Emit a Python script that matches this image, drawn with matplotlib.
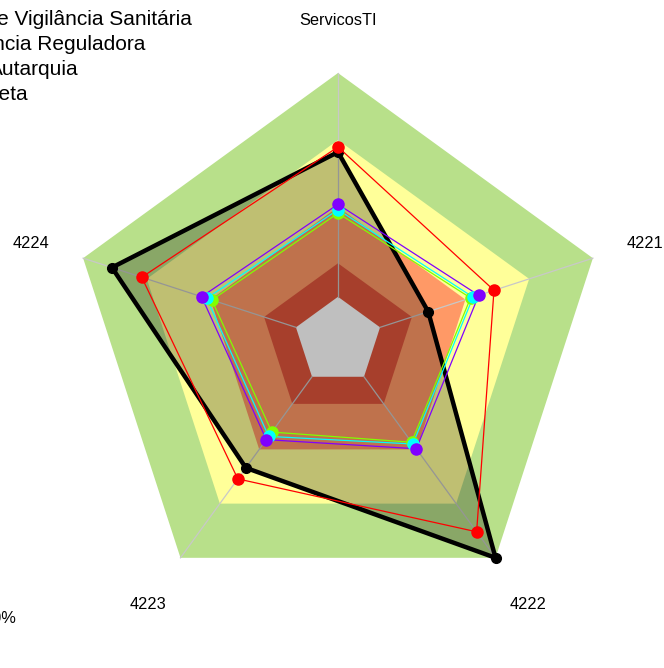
import numpy as np
import matplotlib
matplotlib.use("Agg")
import matplotlib.pyplot as plt
from matplotlib.patches import Polygon

plt.rcParams['font.family'] = ['Liberation Sans', 'DejaVu Sans']

# ---- data ----
axes_labels = ["ServicosTI", "4221", "4222", "4223", "4224"]
series_names = ["Agência Nacional de Vigilância Sanitária", "Agência Reguladora",
                "Autarquia", "Meta"]
# values as fraction of the full scale (1.0 = outer ring)
meta = [0.705, 0.354, 1.00, 0.585, 0.887]
s_red = [0.724, 0.612, 0.88, 0.636, 0.77]
s_lime = [0.477, 0.52, 0.467, 0.42, 0.495]
s_cyan = [0.49, 0.53, 0.475, 0.44, 0.515]
s_purple = [0.51, 0.552, 0.497, 0.455, 0.535]
band_edges = [0.165, 0.29, 0.5, 0.75, 1.0]
band_colors = ["#FFFFFF", "#E0553C", "#FF9966", "#FFFF99", "#B8E08A"]
bottom_label = "100%"

# ---- layout ----
W, H = 664, 668
CX, CY, R = 338, 341, 268
fig = plt.figure(figsize=(W / 100, H / 100), dpi=100)
ax = fig.add_axes([0, 0, 1, 1])
ax.set_xlim(-CX / R, (W - CX) / R)
ax.set_ylim(-(H - CY) / R, CY / R)
ax.set_aspect('equal')
ax.axis('off')

n = len(axes_labels)
theta = np.pi / 2 - 2 * np.pi * np.arange(n) / n


def xy(vals):
    v = np.asarray(vals, float)
    return v * np.cos(theta), v * np.sin(theta)


# bands, outermost first
for edge, col in zip(band_edges[::-1], band_colors[::-1]):
    x, y = xy([edge] * n)
    ax.add_patch(Polygon(np.column_stack([x, y]), closed=True, facecolor=col,
                         edgecolor='none', zorder=1))

# spokes
for t in theta:
    ax.plot([band_edges[0] * np.cos(t), np.cos(t)],
            [band_edges[0] * np.sin(t), np.sin(t)],
            color='#C8C8C8', lw=0.9, zorder=2)

# Meta polygon with translucent fill
x, y = xy(meta)
ax.add_patch(Polygon(np.column_stack([x, y]), closed=True, facecolor='black',
                     alpha=0.25, edgecolor='none', zorder=3))
ax.plot(np.append(x, x[0]), np.append(y, y[0]), color='black', lw=3.2, zorder=4,
        solid_joinstyle='miter')
ax.plot(x, y, 'o', color='black', ms=7, zorder=4)

for vals, col in [(s_red, '#FF0000'), (s_lime, '#80FF00'),
                  (s_cyan, '#00FFFF'), (s_purple, '#8000FF')]:
    x, y = xy(vals)
    ax.plot(np.append(x, x[0]), np.append(y, y[0]), color=col, lw=0.9, zorder=5)
    ax.plot(x, y, 'o', color=col, ms=8, zorder=6)

# axis labels
for lab, t in zip(axes_labels, theta):
    ax.text(1.205 * np.cos(t), 1.205 * np.sin(t) - 0.009, lab, ha='center',
            va='center', fontsize=11.8, zorder=7)

# legend-like texts (clipped at left edge)
leg_right = [192, 145, 79, 28]
leg_base = [25, 50, 75, 100]
for name, xr, yb in zip(series_names, leg_right, leg_base):
    fig.text(xr / W, 1 - yb / H, name, ha='right', va='baseline', fontsize=15)

fig.text(16.5 / W, 1 - 623 / H, bottom_label, ha='right', va='baseline', fontsize=11.8)

fig.savefig("out.png", dpi=100)
